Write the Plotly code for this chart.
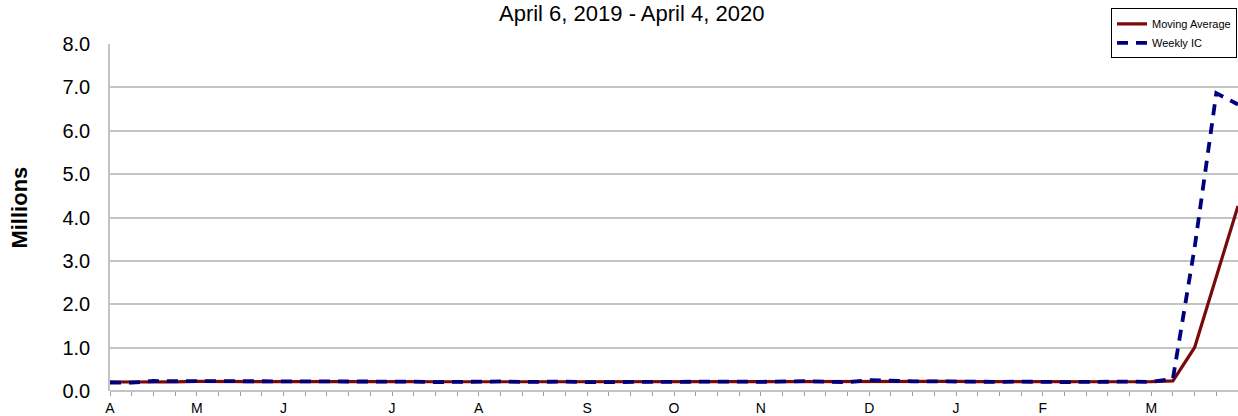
import plotly.graph_objects as go
import pandas as pd

weeks = pd.date_range("2019-04-06", "2020-04-04", freq="7D").strftime("%Y-%m-%d").tolist()

weekly_ic = [0.196, 0.192, 0.230, 0.230, 0.228, 0.212, 0.211, 0.215, 0.218, 0.222,
             0.216, 0.227, 0.221, 0.209, 0.216, 0.206, 0.215, 0.209, 0.220, 0.209,
             0.215, 0.217, 0.204, 0.208, 0.213, 0.219, 0.210, 0.214, 0.212, 0.218,
             0.211, 0.225, 0.227, 0.213, 0.203, 0.252, 0.234, 0.222, 0.222, 0.214,
             0.204, 0.211, 0.216, 0.202, 0.205, 0.210, 0.219, 0.216, 0.211, 0.282,
             3.307, 6.867, 6.606]

moving_avg = [0.207, 0.203, 0.206, 0.212, 0.220, 0.225, 0.220, 0.217, 0.214, 0.217,
              0.218, 0.221, 0.222, 0.218, 0.218, 0.213, 0.212, 0.212, 0.213, 0.213,
              0.213, 0.215, 0.211, 0.211, 0.211, 0.211, 0.213, 0.214, 0.214, 0.214,
              0.214, 0.217, 0.220, 0.219, 0.217, 0.224, 0.226, 0.228, 0.233, 0.223,
              0.216, 0.213, 0.211, 0.208, 0.209, 0.208, 0.209, 0.213, 0.214, 0.232,
              1.004, 2.667, 4.266]

month_ticks = {"2019-04-06": "A", "2019-05-04": "M", "2019-06-01": "J", "2019-07-06": "J",
               "2019-08-03": "A", "2019-09-07": "S", "2019-10-05": "O", "2019-11-02": "N",
               "2019-12-07": "D", "2020-01-04": "J", "2020-02-01": "F", "2020-03-07": "M",
               "2020-04-04": "A"}
tick_text = [month_ticks.get(w, "") for w in weeks]

title_text = "April 6, 2019 - April 4, 2020"
y_title = "Millions"

W, H = 1238, 416
L, T, B = 110, 44, 22
PW, PH = W - L, H - T - B  # 1128 x 350


def px_x(x):
    return (x - L) / PW


def px_y(y):
    return (H - B - y) / PH


fig = go.Figure()
fig.add_trace(go.Scatter(x=weeks, y=moving_avg, mode="lines", name="Moving Average",
                         line=dict(color="#7a0a0a", width=3.2)))
fig.add_trace(go.Scatter(x=weeks, y=weekly_ic, mode="lines", name="Weekly IC",
                         line=dict(color="#00007f", width=3.8, dash="11px,8px")))

fig.update_layout(
    width=W, height=H,
    margin=dict(l=L, r=0, t=T, b=B),
    paper_bgcolor="white", plot_bgcolor="white",
    font=dict(family="Liberation Sans, Arial, sans-serif", color="black"),
    showlegend=True,
    legend=dict(x=px_x(1237), y=px_y(8), xanchor="right", yanchor="top",
                bordercolor="black", borderwidth=1, bgcolor="white",
                font=dict(size=11), tracegroupgap=0),
    annotations=[
        dict(text=title_text, xref="paper", yref="paper",
             x=px_x(631), y=px_y(13), xanchor="center", yanchor="middle",
             showarrow=False, font=dict(size=22, color="black")),
        dict(text="<b>" + y_title + "</b>", xref="paper", yref="paper",
             x=px_x(20), y=px_y(209), xanchor="center", yanchor="middle",
             textangle=-90, showarrow=False, font=dict(size=22, color="black")),
    ],
)

fig.update_xaxes(
    range=[weeks[0], weeks[-1]],
    tickmode="array", tickvals=weeks, ticktext=tick_text,
    ticks="outside", ticklen=4, tickcolor="#a0a0a0", tickwidth=1,
    tickfont=dict(size=14), tickangle=0,
    showgrid=False, showline=False, zeroline=False,
)
fig.update_yaxes(
    range=[0, 8], dtick=1, tickformat=".1f",
    tickfont=dict(size=20), ticks="", ticklabelstandoff=14,
    showgrid=True, gridcolor="#c4c4c4", gridwidth=1.5,
    zeroline=True, zerolinecolor="#c4c4c4", zerolinewidth=1.5,
    showline=True, linecolor="#c4c4c4", linewidth=1.5,
)

fig.write_html(
    "out.html",
    config={"displayModeBar": False},
    post_script="document.body.style.margin='0';document.body.style.overflow='hidden';",
)
